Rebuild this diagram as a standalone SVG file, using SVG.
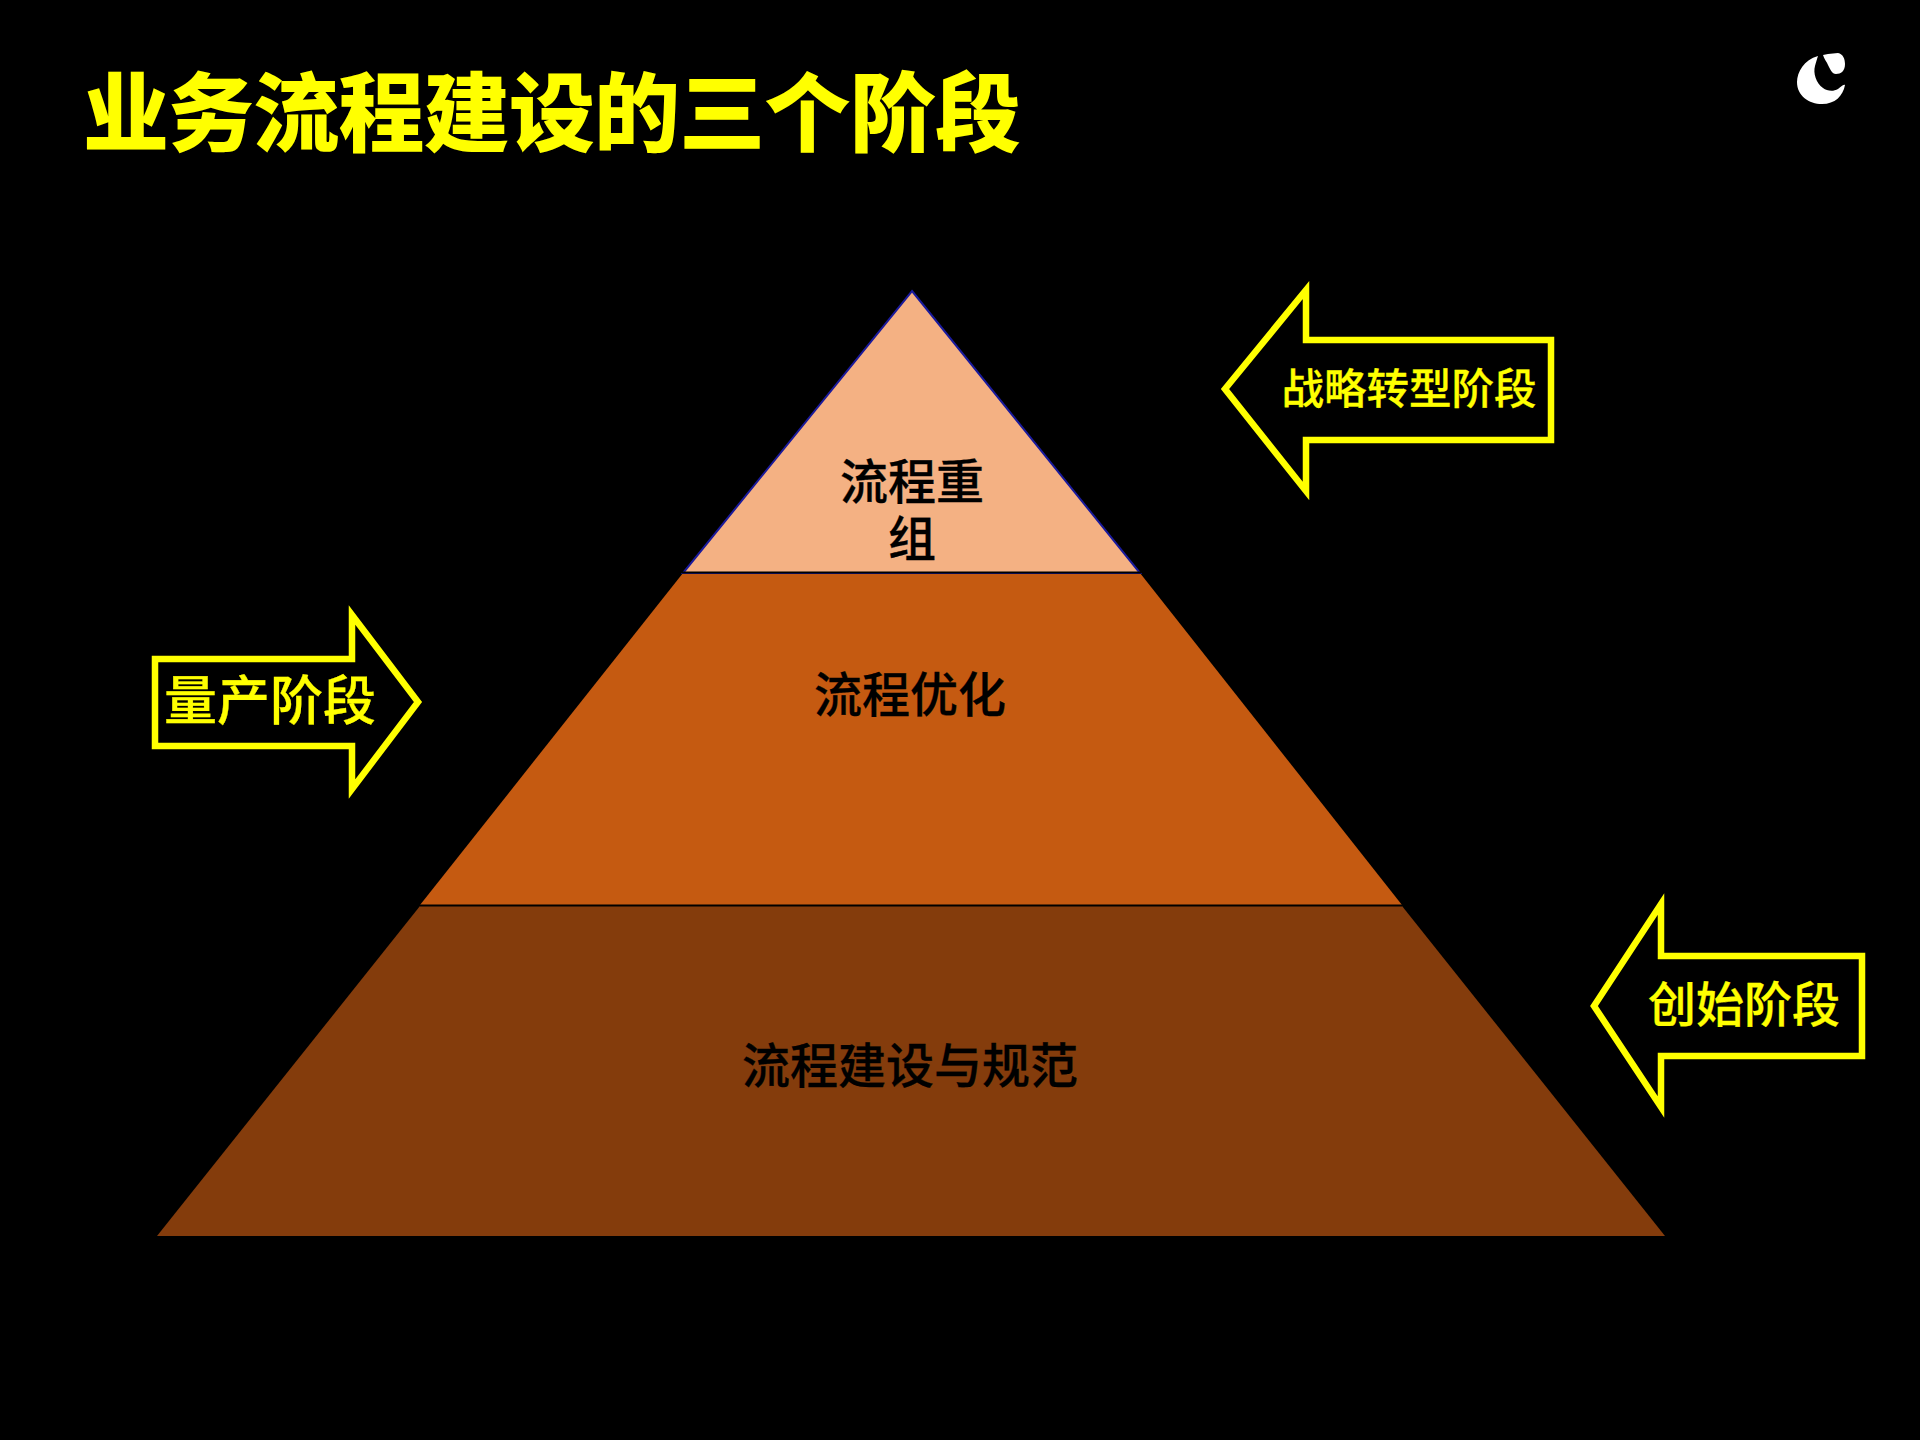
<svg xmlns="http://www.w3.org/2000/svg" width="1920" height="1440" viewBox="0 0 1920 1440">
<style>
text{font-family:"Noto Sans CJK SC","Liberation Sans",sans-serif;text-anchor:middle}
.t{fill:#000;stroke:#000;stroke-width:.3;font-size:48px;font-weight:500}
.y{fill:#ff0;stroke:#ff0;stroke-width:.3;font-weight:500}
.a{fill:none;stroke:#ff0;stroke-width:6.500}
</style>
<rect width="1920" height="1440" fill="#000"/>
<text id="title" x="551.500" y="145" font-size="86" font-weight="900" letter-spacing="-.800" style="fill:#ff0">业务流程建设的三个阶段</text>
<g id="logo"><path fill="#fff" d="M1818 56C1804 60 1797 72 1797 82C1797 96 1809 104 1822 104C1835 104 1843 96 1845 85C1843 84 1841 87 1838 89C1833 92 1827 91 1823 88C1816 83 1813 73 1815 66C1816 62 1817 59 1818 56Z"/><path fill="#fff" d="M1823 55L1828 54L1838 53C1843 54 1845 59 1845 64C1845 71 1841 74 1836 74C1832 74 1830 69 1828 65C1827 62 1824 59 1823 55Z"/></g>
<g id="tier3"><polygon points="420,906 1402,906 1665,1236 157,1236" fill="#843c0c"/><text class="t" x="910" y="1083">流程建设与规范</text></g>
<g id="tier2"><polygon points="683,573 1140,573 1402,905 420,905" fill="#c55a11"/><line x1="420" y1="905.500" x2="1402" y2="905.500" stroke="#000" stroke-width="2"/><text class="t" x="910" y="712">流程优化</text></g>
<g id="tier1"><polygon points="912,291 1140,573 683,573" fill="#f4b183" stroke="#1a1a9c" stroke-width="2"/><line x1="682" y1="572.500" x2="1141" y2="572.500" stroke="#000" stroke-width="2"/><text class="t" x="912" y="499">流程重<tspan x="912" dy="57">组</tspan></text></g>
<g id="arrow-mass"><polygon class="a" points="155,659 352,659 352,615 418,702 352,789 352,746 155,746"/><text class="y" x="270" y="720" font-size="53">量产阶段</text></g>
<g id="arrow-strategy"><polygon class="a" points="1551,340 1306,340 1306,290 1225,389 1306,491 1306,440 1551,440"/><text class="y" x="1409" y="404" font-size="42.500">战略转型阶段</text></g>
<g id="arrow-start"><polygon class="a" points="1862,956 1661,956 1661,904 1594,1006 1661,1107 1661,1056 1862,1056"/><text class="y" x="1744" y="1022" font-size="48">创始阶段</text></g>
</svg>
